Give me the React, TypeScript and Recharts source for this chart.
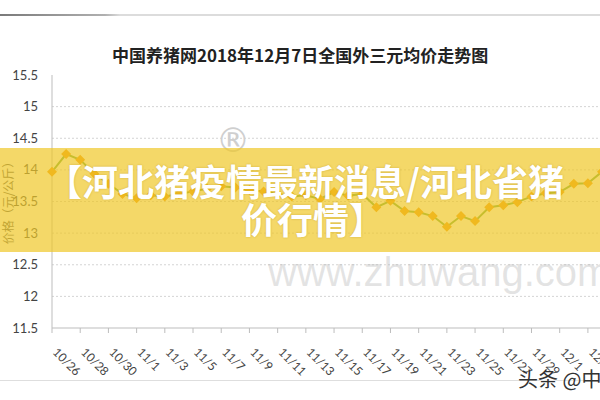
import React from "react";
import { LineChart, Line, XAxis, YAxis, CartesianGrid } from "recharts";

// 10/26 .. 12/4 (the picture is cut off at the right edge)
const dates = [
  "10/26", "10/27", "10/28", "10/29", "10/30", "10/31",
  "11/1", "11/2", "11/3", "11/4", "11/5", "11/6", "11/7", "11/8", "11/9", "11/10",
  "11/11", "11/12", "11/13", "11/14", "11/15", "11/16", "11/17", "11/18", "11/19", "11/20",
  "11/21", "11/22", "11/23", "11/24", "11/25", "11/26", "11/27", "11/28", "11/29", "11/30",
  "12/1", "12/2", "12/3", "12/4",
];

const prices = [
  13.97, 14.25, 14.16, 13.94, 13.78, 13.62,
  13.55, 13.6, 13.58, 13.62, 13.66, 13.7, 13.74, 13.72, 13.68, 13.66,
  13.62, 13.58, 13.6, 13.54, 13.65, 13.59, 13.62, 13.41, 13.51, 13.35,
  13.33, 13.27, 13.1, 13.27, 13.19, 13.41, 13.44, 13.49, 13.58, 13.63,
  13.65, 13.78, 13.79, 13.97,
];

const yTicks = [11.5, 12, 12.5, 13, 13.5, 14, 14.5, 15, 15.5];
const gridValues = [12, 12.5, 13, 13.5, 14, 14.5, 15];

const data = dates.map((d, i) => ({ date: d, price: prices[i] }));

const Diamond = (props: any) => {
  const { cx, cy } = props;
  if (cx == null || cy == null) return null;
  const r = 5;
  return (
    <polygon
      points={`${cx},${cy - r} ${cx + r},${cy} ${cx},${cy + r} ${cx - r},${cy}`}
      fill="#f2960c"
    />
  );
};

const XTick = (props: any) => {
  const { x, y, payload } = props;
  const ty = y + 20;
  return (
    <text
      x={x}
      y={ty}
      transform={`rotate(45 ${x} ${ty})`}
      textAnchor="start"
      fontSize={12}
      fill="#444"
      fontFamily="Lato, sans-serif"
    >
      {payload.value}
    </text>
  );
};

export default function App() {
  return (
    <div
      style={{
        position: "absolute",
        left: 0,
        top: 0,
        width: 600,
        height: 400,
        overflow: "hidden",
        background: "#fff",
      }}
    >
      <div
        style={{
          position: "absolute",
          left: 0,
          top: 14,
          width: 600,
          height: 2,
          background: "linear-gradient(to right, #7a7a7a 0px, #b0b0b0 105px, #dcdcdc 120px, #dcdcdc 600px)",
        }}
      />
      <div
        style={{
          position: "absolute",
          left: 112,
          top: 42,
          fontSize: 17,
          fontWeight: "bold",
          fontFamily: "'Noto Sans CJK SC', sans-serif",
          color: "#222",
          whiteSpace: "nowrap",
        }}
      >
        中国养猪网2018年12月7日全国外三元均价走势图
      </div>

      <div style={{ position: "absolute", left: 0, top: 0 }}>
        <LineChart
          width={620}
          height={400}
          data={data}
          margin={{ top: 75, right: 18, bottom: 12, left: 0 }}
        >
          <CartesianGrid
            vertical={false}
            horizontalValues={gridValues}
            stroke="#d4d4d4"
            strokeDasharray="2 2"
          />
          <XAxis
            dataKey="date"
            interval={1}
            height={60}
            tickSize={5}
            tickMargin={0}
            stroke="#bdbdbd"
            tick={<XTick />}
          />
          <YAxis
            domain={[11.5, 15.5]}
            ticks={yTicks}
            width={52}
            tickLine={false}
            tickSize={6}
            tickMargin={8}
            stroke="#bdbdbd"
            tick={{ fontSize: 13, fill: "#444", fontFamily: "Lato, sans-serif" }}
          />
          <Line
            type="linear"
            dataKey="price"
            stroke="#6aa83a"
            strokeWidth={2}
            dot={<Diamond />}
            activeDot={false}
            isAnimationActive={false}
          />
        </LineChart>
      </div>

      <div
        style={{
          position: "absolute",
          left: -52,
          top: 192,
          width: 120,
          textAlign: "center",
          fontSize: 12,
          lineHeight: "16px",
          color: "#555",
          fontFamily: "'Noto Sans CJK SC', sans-serif",
          transform: "rotate(-90deg)",
          whiteSpace: "nowrap",
        }}
      >
        价格（元/公斤）
      </div>

      {/* watermarks */}
      <div
        style={{
          position: "absolute",
          left: 216,
          top: 120,
          fontSize: 34,
          color: "#cfcfcf",
          fontFamily: "'DejaVu Sans', sans-serif",
        }}
      >
        ®
      </div>
      <div
        style={{
          position: "absolute",
          left: 268,
          top: 250,
          fontSize: 40,
          color: "rgba(175,175,175,0.35)",
          fontFamily: "'Liberation Sans', sans-serif",
          whiteSpace: "nowrap",
        }}
      >
        www.zhuwang.com
      </div>

      {/* banner */}
      <div
        style={{
          position: "absolute",
          left: 0,
          top: 148,
          width: 600,
          height: 104,
          background: "rgba(240,200,40,0.7)",
        }}
      />
      <div
        style={{
          position: "absolute",
          left: 0,
          top: 161,
          width: 600,
          textAlign: "center",
          fontSize: 36,
          lineHeight: "38px",
          fontWeight: "bold",
          color: "#fff",
          fontFamily: "'Noto Sans CJK SC', sans-serif",
          textShadow: "0 0 2px rgba(160,120,0,0.45)",
          whiteSpace: "nowrap",
        }}
      >
        <div style={{ paddingLeft: 10 }}>【河北猪疫情最新消息/河北省猪</div>
        <div style={{ paddingLeft: 26 }}>价行情】</div>
      </div>

      <div
        style={{
          position: "absolute",
          left: 0,
          top: 380,
          width: 600,
          height: 1,
          background: "#dedede",
        }}
      />
      <div
        style={{
          position: "absolute",
          left: 518,
          top: 364,
          fontSize: 20,
          color: "#333",
          fontFamily: "'Noto Sans CJK SC', sans-serif",
          whiteSpace: "nowrap",
          textShadow: "0 0 3px #fff",
        }}
      >
        头条 @中国养猪网
      </div>
    </div>
  );
}
